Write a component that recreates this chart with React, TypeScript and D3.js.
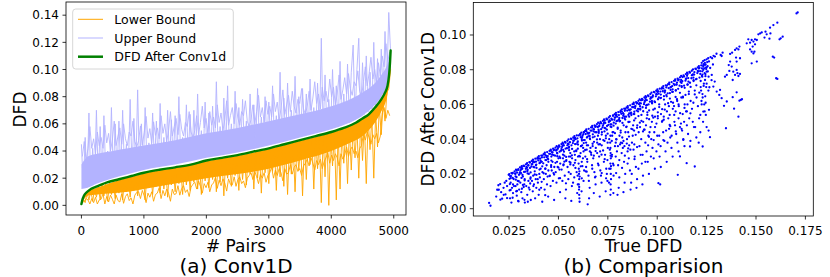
import React from "react";
import * as d3 from "d3";

// ---------- Panel (a): bounds sampled every 30 pairs ----------
const PAIR_STEP = 30;
const upperBound = [
  0.045, 0.013, 0.05, 0.015, 0.068, 0.016, 0.042, 0.017, 0.07, 0.019,
  0.058, 0.019, 0.066, 0.021, 0.04, 0.021, 0.072, 0.022, 0.06, 0.023,
  0.062, 0.024, 0.07, 0.024, 0.045, 0.025, 0.078, 0.026, 0.064, 0.026,
  0.085, 0.027, 0.06, 0.028, 0.072, 0.029, 0.046, 0.029, 0.068, 0.03,
  0.062, 0.03, 0.075, 0.031, 0.05, 0.031, 0.07, 0.032, 0.063, 0.032,
  0.066, 0.033, 0.08, 0.033, 0.05, 0.034, 0.074, 0.035, 0.067, 0.035,
  0.07, 0.036, 0.082, 0.036, 0.055, 0.037, 0.076, 0.037, 0.068, 0.038,
  0.073, 0.038, 0.091, 0.039, 0.058, 0.039, 0.079, 0.04, 0.088, 0.04,
  0.06, 0.041, 0.084, 0.041, 0.072, 0.042, 0.078, 0.042, 0.062, 0.043,
  0.082, 0.043, 0.074, 0.044, 0.086, 0.044, 0.065, 0.045, 0.08, 0.045,
  0.076, 0.046, 0.088, 0.047, 0.066, 0.047, 0.098, 0.048, 0.079, 0.048,
  0.09, 0.049, 0.07, 0.05, 0.095, 0.05, 0.08, 0.051, 0.086, 0.052,
  0.082, 0.052, 0.093, 0.053, 0.072, 0.054, 0.09, 0.054, 0.123, 0.055,
  0.096, 0.056, 0.078, 0.057, 0.1, 0.058, 0.088, 0.058, 0.106, 0.059,
  0.082, 0.06, 0.104, 0.061, 0.098, 0.118, 0.063, 0.1, 0.123, 0.065,
  0.105, 0.067, 0.11, 0.069, 0.098, 0.071, 0.12, 0.074, 0.108, 0.078,
  0.115, 0.082, 0.128, 0.089, 0.142, 0.112,
];
const lowerBound = [
  0.001, 0.004, 0.002, 0.009, 0.004, 0.011, 0.003, 0.012, 0.006, 0.014,
  0.004, 0.015, 0.007, 0.016, 0.003, 0.017, 0.008, 0.017, 0.005, 0.018,
  0.009, 0.019, 0.004, 0.02, 0.01, 0.02, 0.006, 0.021, 0.011, 0.022,
  0.007, 0.022, 0.012, 0.023, 0.004, 0.024, 0.013, 0.024, 0.008, 0.025,
  0.014, 0.025, 0.009, 0.026, 0.012, 0.026, 0.006, 0.027, 0.015, 0.027,
  0.01, 0.028, 0.016, 0.028, 0.008, 0.029, 0.015, 0.029, 0.011, 0.03,
  0.017, 0.03, 0.012, 0.031, 0.008, 0.031, 0.018, 0.032, 0.013, 0.032,
  0.019, 0.033, 0.01, 0.033, 0.017, 0.034, 0.007, 0.034, 0.02, 0.035,
  0.014, 0.035, 0.022, 0.036, 0.011, 0.036, 0.019, 0.037, 0.015, 0.037,
  0.023, 0.038, 0.012, 0.038, 0.02, 0.039, 0.009, 0.04, 0.024, 0.04,
  0.016, 0.041, 0.025, 0.042, 0.011, 0.042, 0.021, 0.043, 0.014, 0.043,
  0.008, 0.044, 0.023, 0.045, 0.01, 0.045, 0.026, 0.046, 0.007, 0.047,
  0.019, 0.047, 0.03, 0.048, 0.012, 0.049, 0.027, 0.05, 0.002, 0.051,
  0.021, 0.052, 0.0, 0.052, 0.029, 0.053, 0.004, 0.054, 0.012, 0.055,
  0.031, 0.056, 0.016, 0.057, 0.026, 0.058, 0.035, 0.059, 0.02, 0.061,
  0.033, 0.062, 0.016, 0.064, 0.041, 0.065, 0.02, 0.068, 0.043, 0.072,
  0.052, 0.076, 0.062, 0.083, 0.086, 0.1,
];
// the in-between samples (pairs 15, 45, 75, ...): shorter spikes at the edge of each band
const upperBoundMid = [
  0.036, 0.047, 0.033, 0.042, 0.058, 0.042, 0.049, 0.038, 0.054, 0.044,
  0.05, 0.042, 0.059, 0.046, 0.053, 0.04, 0.048, 0.062, 0.044, 0.051,
  0.057, 0.045, 0.06, 0.049, 0.044, 0.054, 0.051, 0.062, 0.047, 0.043,
  0.0475, 0.0585, 0.0445, 0.0535, 0.0655, 0.0495, 0.0565, 0.0455, 0.0615, 0.0515,
  0.057, 0.049, 0.066, 0.053, 0.06, 0.047, 0.055, 0.069, 0.051, 0.058,
  0.064, 0.052, 0.067, 0.056, 0.051, 0.061, 0.058, 0.069, 0.054, 0.05,
  0.055, 0.066, 0.052, 0.061, 0.073, 0.057, 0.064, 0.053, 0.069, 0.059,
  0.065, 0.057, 0.074, 0.061, 0.068, 0.055, 0.063, 0.077, 0.059, 0.066,
  0.072, 0.06, 0.075, 0.064, 0.059, 0.069, 0.066, 0.077, 0.062, 0.058,
  0.063, 0.074, 0.06, 0.069, 0.081, 0.065, 0.072, 0.061, 0.077, 0.067,
  0.073, 0.065, 0.082, 0.069, 0.076, 0.063, 0.071, 0.085, 0.067, 0.074,
  0.081, 0.069, 0.084, 0.073, 0.068, 0.078, 0.075, 0.086, 0.071, 0.067,
  0.073, 0.084, 0.07, 0.079, 0.091, 0.075, 0.082, 0.071, 0.087, 0.077,
  0.084, 0.076, 0.093, 0.08, 0.087, 0.074, 0.082, 0.096, 0.078, 0.085,
  0.094, 0.082, 0.097, 0.086, 0.081, 0.091, 0.088, 0.099, 0.084, 0.08,
  0.091, 0.102, 0.088, 0.097, 0.109, 0.093, 0.1, 0.089, 0.105, 0.095,
  0.11, 0.102, 0.119, 0.106, 0.113,
];
const lowerBoundMid = [
  0.002, 0.003, 0.005, 0.004, 0.001, 0.005, 0.002, 0.006, 0.001, 0.004,
  0.0045, 0.0085, 0.001, 0.0065, 0.0025, 0.0075, 0.0045, 0.001, 0.0075, 0.0035,
  0.0025, 0.0085, 0.0015, 0.0065, 0.0085, 0.0035, 0.0055, 0.001, 0.0075, 0.0095,
  0.01, 0.005, 0.011, 0.007, 0.002, 0.009, 0.006, 0.01, 0.003, 0.008,
  0.009, 0.013, 0.005, 0.011, 0.007, 0.012, 0.009, 0.003, 0.012, 0.008,
  0.0085, 0.0145, 0.0075, 0.0125, 0.0145, 0.0095, 0.0115, 0.0065, 0.0135, 0.0155,
  0.017, 0.012, 0.018, 0.014, 0.009, 0.016, 0.013, 0.017, 0.01, 0.015,
  0.0165, 0.0205, 0.0125, 0.0185, 0.0145, 0.0195, 0.0165, 0.0105, 0.0195, 0.0155,
  0.015, 0.021, 0.014, 0.019, 0.021, 0.016, 0.018, 0.013, 0.02, 0.022,
  0.024, 0.019, 0.025, 0.021, 0.016, 0.023, 0.02, 0.024, 0.017, 0.022,
  0.024, 0.028, 0.02, 0.026, 0.022, 0.027, 0.024, 0.018, 0.027, 0.023,
  0.024, 0.03, 0.023, 0.028, 0.03, 0.025, 0.027, 0.022, 0.029, 0.031,
  0.034, 0.029, 0.035, 0.031, 0.026, 0.033, 0.03, 0.034, 0.027, 0.032,
  0.035, 0.039, 0.031, 0.037, 0.033, 0.038, 0.035, 0.029, 0.038, 0.034,
  0.037, 0.043, 0.036, 0.041, 0.043, 0.038, 0.04, 0.035, 0.042, 0.044,
  0.053, 0.048, 0.054, 0.05, 0.045, 0.052, 0.049, 0.053, 0.046, 0.051,
  0.068, 0.072, 0.064, 0.07, 0.066,
];
// dense cores of the two bound bands (where thousands of overlapping lines merge)
const corePairs = [0, 100, 250, 500, 750, 1000, 1500, 2000, 2500, 3000, 3500, 4000, 4250, 4500, 4700, 4800, 4900, 4950];
const upperCoreLow = [0.012, 0.013, 0.016, 0.02, 0.023, 0.026, 0.03, 0.035, 0.039, 0.044, 0.05, 0.056, 0.06, 0.066, 0.074, 0.08, 0.09, 0.112];
const upperCoreHigh = [0.03, 0.036, 0.038, 0.04, 0.042, 0.044, 0.048, 0.053, 0.057, 0.062, 0.067, 0.073, 0.077, 0.083, 0.09, 0.096, 0.104, 0.112];
const lowerCoreLow = [0.001, 0.007, 0.008, 0.009, 0.01, 0.012, 0.016, 0.02, 0.023, 0.027, 0.033, 0.04, 0.045, 0.051, 0.061, 0.069, 0.082, 0.1];
const lowerCoreHigh = [0.001, 0.0105, 0.013, 0.017, 0.0205, 0.0235, 0.0275, 0.0325, 0.0365, 0.0415, 0.0475, 0.0535, 0.0575, 0.0635, 0.0715, 0.0775, 0.0875, 0.113];

const convPairs = [0, 15, 40, 80, 150, 250, 400, 600, 800, 1000, 1250, 1500, 1750, 2000, 2250, 2500, 2750, 3000, 3250, 3500, 3750, 4000, 4200, 4400, 4500, 4600, 4700, 4800, 4860, 4900, 4925, 4940, 4950];
const convValues = [0.001, 0.004, 0.007, 0.0095, 0.012, 0.014, 0.0167, 0.0192, 0.0216, 0.024, 0.0262, 0.028, 0.03, 0.033, 0.035, 0.037, 0.0395, 0.042, 0.045, 0.048, 0.051, 0.054, 0.057, 0.061, 0.064, 0.067, 0.072, 0.078, 0.083, 0.088, 0.096, 0.105, 0.114];

const leftXTicks = [0, 1000, 2000, 3000, 4000, 5000];
const leftYTicks = [0, 0.02, 0.04, 0.06, 0.08, 0.1, 0.12, 0.14];
const rightXTicks = [0.025, 0.05, 0.075, 0.1, 0.125, 0.15, 0.175];
const rightYTicks = [0, 0.02, 0.04, 0.06, 0.08, 0.1];

const legendItems = [
  { label: "Lower Bound", color: "#ffa500", width: 1 },
  { label: "Upper Bound", color: "#b3b3ff", width: 1 },
  { label: "DFD After Conv1d", color: "#008000", width: 2.5 },
];

// ---------- Panel (b): [True DFD, DFD after Conv1D] in units of 1e-4 ----------
const scatter1e4: [number, number][] = [
  [149,33],[156,17],[190,109],[185,70],[196,135],[205,142],[210,95],[215,58],[222,120],[228,150],[232,82],[236,160],[240,130],
  [198,109],[223,80],[240,61],[206,52],
  [248,195],[252,172],[255,188],[258,150],[262,205],[265,120],[268,178],[270,90],[255,60],[262,35],[270,140],[258,108],
  [278,215],[282,200],[285,225],[288,182],[291,208],[294,160],[297,228],[300,195],[283,130],[289,75],[296,45],[301,110],[286,100],[292,140],
  [305,238],[308,220],[311,205],[314,245],[317,230],[320,185],[323,248],[326,212],[329,170],[307,150],[312,95],[318,60],[324,125],[330,35],[315,115],[327,140],
  [335,255],[338,240],[341,262],[344,225],[347,250],[350,200],[353,268],[356,235],[359,180],[337,130],[342,80],[348,160],[354,110],[360,50],[345,40],[357,145],
  [365,275],[368,258],[371,282],[374,240],[377,268],[380,215],[383,288],[386,250],[389,195],[366,160],[370,100],[376,140],[382,60],[388,120],[372,190],[385,170],
  [395,295],[398,278],[401,303],[404,262],[407,288],[410,230],[413,306],[416,270],[419,210],[396,150],[400,80],[406,180],[412,120],[418,40],[403,200],[415,155],
  [425,314],[428,296],[431,322],[434,280],[437,306],[440,250],[443,326],[446,290],[449,220],[426,170],[430,110],[436,200],[442,140],[448,70],[433,230],[445,185],
  [455,333],[458,316],[461,340],[464,300],[467,326],[470,270],[473,345],[476,308],[479,240],[456,190],[460,130],[466,220],[472,160],[478,50],[463,250],[475,205],
  [485,352],[488,335],[491,360],[494,318],[497,345],[500,290],[503,364],[506,328],[509,260],[486,210],[490,150],[496,240],[502,175],[508,95],[493,270],[505,225],
  [515,372],[518,355],[521,380],[524,338],[527,364],[530,305],[533,384],[536,346],[539,275],[516,225],[520,160],[526,255],[532,190],[538,110],[523,290],[535,60],
  [545,391],[548,374],[551,399],[554,356],[557,382],[560,320],[563,403],[566,365],[569,290],[546,240],[550,170],[556,270],[562,200],[568,130],[553,300],[565,45],
  [575,410],[578,392],[581,418],[584,372],[587,400],[590,335],[593,422],[596,380],[599,300],[576,250],[580,180],[586,280],[592,210],[598,140],[583,310],[595,90],
  [602,260],[603,230],[604,200],[605,170],[603,140],[604,110],[605,80],[606,60],[607,40],[606,215],[607,185],[605,125],
  [610,430],[613,412],[616,438],[619,392],[622,420],[625,350],[628,441],[612,320],[618,270],[624,290],[630,220],[614,360],[621,245],[627,160],[617,100],[629,395],
  [635,448],[638,430],[641,456],[644,410],[647,438],[650,365],[653,460],[656,420],[659,330],[636,300],[640,240],[646,270],[652,190],[658,120],[643,340],[655,60],[648,25],
  [665,468],[668,450],[671,476],[674,428],[677,458],[680,385],[683,480],[686,440],[689,350],[666,310],[670,250],[676,290],[682,210],[688,140],[673,360],[685,180],[679,90],
  [695,487],[698,470],[701,495],[704,446],[707,476],[710,400],[713,499],[716,458],[719,365],[696,320],[700,260],[706,300],[712,220],[718,150],[703,370],[715,190],[709,70],
  [725,506],[728,488],[731,514],[734,465],[737,494],[740,420],[743,518],[746,476],[749,380],[726,335],[730,270],[736,310],[742,230],[748,160],[733,390],[745,200],[739,100],
  [762,380],[763,350],[764,320],[765,290],[763,260],[764,230],[765,200],[766,170],[764,140],[765,110],[763,80],[766,245],[764,305],
  [755,525],[758,508],[761,533],[768,485],[771,512],[774,440],[777,537],[780,495],[757,400],[760,340],[770,300],[776,260],[779,190],[756,150],[772,420],[778,90],
  [785,544],[788,526],[791,552],[794,504],[797,530],[800,460],[803,556],[806,512],[809,420],[786,360],[790,300],[796,330],[802,250],[808,180],[793,400],[805,120],[799,80],
  [815,564],[818,546],[821,572],[824,522],[827,550],[830,480],[833,576],[836,530],[839,440],[816,380],[820,320],[826,350],[832,270],[838,200],[823,410],[835,150],[829,95],
  [790,380],[812,370],[834,360],[846,375],[858,365],[872,380],[884,370],
  [845,583],[848,565],[851,591],[854,540],[857,570],[860,500],[863,595],[866,548],[869,460],[847,400],[850,330],[856,290],[862,220],[868,150],[853,440],[865,110],
  [875,602],[878,584],[881,610],[884,558],[887,588],[890,520],[893,614],[896,565],[899,480],[876,420],[880,340],[886,300],[892,240],[898,170],[883,450],[895,120],
  [905,621],[908,602],[911,629],[914,576],[917,606],[920,540],[923,632],[926,584],[929,500],[906,440],[910,360],[916,310],[922,260],[928,190],[913,470],[925,140],
  [935,640],[938,620],[941,648],[944,594],[947,625],[950,555],[953,652],[956,600],[959,515],[936,455],[940,380],[946,330],[952,270],[958,200],[943,480],[955,420],
  [965,660],[968,640],[971,668],[974,612],[977,644],[980,570],[983,672],[986,618],[989,530],[966,470],[970,400],[976,350],[982,290],[988,230],[973,500],[985,440],
  [995,679],[998,658],[1001,687],[1004,630],[1007,662],[1010,585],[1013,691],[1016,636],[1019,545],[996,490],[1000,420],[1006,370],[1012,300],[1018,240],[1003,520],[1015,140],[1006,147],
  [1025,698],[1028,676],[1031,706],[1034,648],[1037,680],[1040,600],[1043,710],[1046,654],[1049,560],[1026,505],[1030,440],[1036,390],[1042,330],[1048,270],[1033,530],
  [1055,717],[1058,694],[1061,725],[1064,665],[1067,698],[1070,615],[1073,729],[1076,672],[1079,575],[1056,520],[1060,460],[1066,410],[1072,350],[1078,300],[1063,540],
  [1085,736],[1088,712],[1091,744],[1094,682],[1097,716],[1100,630],[1103,748],[1106,690],[1109,590],[1086,540],[1090,480],[1096,430],[1102,380],[1108,330],[1093,560],
  [1115,756],[1118,730],[1121,764],[1124,700],[1127,734],[1130,645],[1133,768],[1136,708],[1139,600],[1116,550],[1120,490],[1126,450],[1132,400],[1138,360],[1123,460],
  [1115,301],[1149,262],[1190,243],[1132,396],[1166,358],[1104,195],
  [1145,775],[1148,750],[1151,783],[1154,715],[1157,752],[1160,660],[1163,787],[1166,725],[1169,620],[1146,560],[1150,480],[1156,430],[1162,520],[1168,390],[1153,600],
  [1175,794],[1178,770],[1181,802],[1184,735],[1187,772],[1190,680],[1193,806],[1196,745],[1199,640],[1176,575],[1180,500],[1186,470],[1192,470],[1198,410],[1183,610],
  [1205,813],[1208,790],[1211,821],[1214,755],[1217,792],[1220,700],[1223,825],[1226,765],[1229,660],[1206,590],[1212,520],[1218,440],[1224,620],[1210,380],
  [1235,832],[1238,808],[1241,840],[1244,775],[1247,812],[1250,720],[1253,844],[1256,790],[1259,680],[1238,600],[1246,540],
  [1225,840],[1232,850],[1240,855],[1250,860],[1258,866],[1262,848],[1270,872],[1278,866],[1285,880],[1292,876],[1300,892],[1245,830],[1255,820],[1268,810],[1282,830],
  [1233,800],[1240,780],[1228,760],[1236,720],[1248,700],[1260,760],[1275,740],[1222,680],[1230,640],[1245,610],[1225,600],[1240,560],[1218,540],[1232,500],[1250,470],[1260,450],
  [1705,1124],[1711,1130],[1608,1071],[1588,1057],[1571,1042],[1548,1019],[1529,1015],[1521,1009],[1554,1004],[1512,1004],[1573,1009],
  [1625,981],[1619,975],[1635,990],[1568,979],[1543,985],[1504,971],[1495,975],[1487,962],[1470,956],[1461,975],[1478,971],
  [1495,946],[1483,933],[1470,917],[1478,904],[1492,904],[1487,894],[1453,952],[1416,933],[1402,923],[1394,914],[1411,917],
  [1369,891],[1379,898],[1331,898],[1321,885],[1326,879],[1585,875],[1592,870],[1504,847],[1478,837],[1419,866],[1399,870],
  [1402,847],[1369,847],[1362,827],[1377,818],[1602,751],[1608,747],[1419,776],[1411,764],[1394,770],[1406,780],[1382,741],
  [1402,799],[1385,789],[1343,760],[1352,770],[1365,793],[1423,626],[1416,622],[1429,630],[1382,642],[1389,576],[1411,530],
  [1402,670],[1348,463],[1267,412],[1230,358],[1338,592],[1352,617],[1326,636],[1318,684],[1301,674],[1314,655],[1262,569],
  [1233,559],[1284,703],[1264,699],[1291,732],[1276,770],[1242,741],[1250,789],[1233,818],
];
// extra points of the dense wedge just under the upper edge
const scatterDense1e4: [number, number][] = [
  [251,199],[258,176],[254,142],[260,188],[253,105],[266,202],[273,171],[269,206],[275,130],[268,63],
  [281,203],[288,220],[284,167],[290,102],[283,186],[296,223],[303,199],[299,158],[305,209],[298,42],
  [311,228],[318,194],[314,239],[320,137],[313,177],[326,245],[333,213],[329,163],[335,230],[328,51],
  [341,236],[348,249],[344,203],[350,121],[343,217],[356,266],[363,243],[359,209],[365,255],[358,172],
  [371,269],[378,238],[374,273],[380,197],[373,130],[386,271],[393,288],[389,235],[395,170],[388,254],
  [401,290],[408,266],[404,225],[410,276],[403,109],[416,295],[423,261],[419,306],[425,204],[418,244],
  [431,312],[438,280],[434,230],[440,297],[433,78],[446,303],[453,316],[449,270],[455,188],[448,284],
  [461,334],[468,311],[464,277],[470,323],[463,240],[476,336],[483,305],[479,340],[485,264],[478,197],
  [491,338],[498,355],[494,302],[500,237],[493,321],[506,357],[513,333],[509,292],[515,343],[508,176],
  [521,362],[528,328],[524,373],[530,271],[523,311],[536,380],[543,348],[539,298],[545,365],[538,146],
  [551,370],[558,383],[554,337],[560,255],[553,351],[566,401],[573,378],[569,344],[575,390],[568,307],
  [581,403],[588,372],[584,407],[590,331],[583,264],[596,405],[603,422],[599,369],[605,304],[598,388],
  [611,425],[618,401],[614,360],[620,411],[613,244],[626,429],[633,395],[629,440],[635,338],[628,378],
  [641,447],[648,415],[644,365],[650,432],[643,213],[656,437],[663,450],[659,404],[665,322],[658,418],
  [671,468],[678,445],[674,411],[680,457],[673,374],[686,471],[693,440],[689,475],[695,399],[688,332],
  [701,472],[708,489],[704,436],[710,371],[703,455],[716,492],[723,468],[719,427],[725,478],[718,311],
  [731,496],[738,462],[734,507],[740,405],[733,445],[746,514],[753,482],[749,432],[755,499],[748,280],
  [761,505],[768,518],[764,472],[770,390],[763,486],[776,535],[783,512],[779,478],[785,524],[778,441],
  [791,538],[798,507],[794,542],[800,466],[793,399],[806,539],[813,556],[809,503],[815,438],[808,522],
  [821,559],[828,535],[824,494],[830,545],[823,378],[836,564],[843,530],[839,575],[845,473],[838,513],
  [851,581],[858,549],[854,499],[860,566],[853,347],[866,572],[873,585],[869,539],[875,457],[868,553],
  [881,602],[888,579],[884,545],[890,591],[883,508],[896,605],[903,574],[899,609],[905,533],[898,466],
  [911,607],[918,624],[914,571],[920,506],[913,590],[926,626],[933,602],[929,561],[935,612],[928,445],
  [941,631],[948,597],[944,642],[950,540],[943,580],[956,648],[963,616],[959,566],[965,633],[958,414],
  [971,639],[978,652],[974,606],[980,524],[973,620],[986,670],[993,647],[989,613],[995,659],[988,576],
  [1001,672],[1008,641],[1004,676],[1010,600],[1003,533],[1016,674],[1023,691],[1019,638],[1025,573],[1018,657],
  [1031,693],[1038,669],[1034,628],[1040,679],[1033,512],[1046,698],[1053,664],[1049,709],[1055,607],[1048,647],
  [1061,716],[1068,684],[1064,634],[1070,701],[1063,482],[1076,706],[1083,719],[1079,673],[1085,591],[1078,687],
  [1091,737],[1098,714],[1094,680],[1100,726],[1093,643],[1106,739],[1113,708],[1109,743],[1115,667],[1108,600],
  [1121,741],[1128,758],[1124,705],[1130,640],[1123,724],[1136,761],[1143,737],[1139,696],[1145,747],[1138,580],
  [1151,765],[1158,731],[1154,776],[1160,674],[1153,714],[1166,783],[1173,751],[1169,701],[1175,768],[1168,549],
  [1181,773],[1188,786],[1184,740],[1190,658],[1183,754],[1196,804],[1203,781],[1199,747],[1205,793],[1198,710],
  [1211,807],[1218,776],[1214,811],[1220,735],[1213,668],[1226,808],[1233,825],[1229,772],[1235,707],[1228,791],
  [1241,828],[1248,804],[1244,763],[1250,814],[1243,647],
];
// points filling the middle of the wedge
const scatterMid1e4: [number, number][] = [
  [552,210],[561,265],[574,150],[586,235],[597,190],[609,300],[618,175],[627,330],[638,215],[645,285],
  [654,160],[662,350],[671,230],[679,305],[688,185],[696,380],[703,250],[711,330],[719,205],[727,395],
  [734,285],[741,175],[750,350],[757,230],[763,420],[771,310],[779,250],[786,435],[792,205],[801,360],
  [808,280],[815,450],[822,235],[829,390],[836,305],[843,470],[850,260],[857,415],[864,340],[871,200],
  [878,480],[885,285],[891,425],[898,355],[905,230],[912,495],[919,400],[926,310],[933,455],[940,270],
  [947,520],[954,365],[961,440],[968,300],[975,535],[982,395],[989,470],[996,330],[1003,555],[1010,420],
  [1017,360],[1024,500],[1031,395],[1038,570],[1045,450],[1052,380],[1059,590],[1066,475],[1073,420],[1080,610],
  [1087,500],[1094,445],[1101,620],[1108,520],[1115,470],[1122,640],[1129,545],[1136,500],[1143,655],[1150,560],
  [700,420],[720,440],[745,455],[768,470],[790,490],[812,505],[835,520],[858,530],[880,545],[903,560],
  [660,400],[683,415],[640,380],[620,365],[598,345],[580,330],[560,300],[540,280],[525,250],[505,300],
];

const FONT = "DejaVu Sans, sans-serif";

// Panel geometry
const L = { x0: 66, x1: 406, y0: 2, y1: 215 };
const R = { x0: 473.3, x1: 813.3, y0: 2.5, y1: 216 };

export default function App() {
  const lx = d3.scaleLinear().domain([-247, 5196]).range([L.x0, L.x1]);
  const ly = d3.scaleLinear().domain([-0.0071, 0.1497]).range([L.y1, L.y0]);
  const rx = d3.scaleLinear().domain([0.0069, 0.179]).range([R.x0, R.x1]);
  const ry = d3.scaleLinear().domain([-0.0042, 0.1187]).range([R.y1, R.y0]);

  const boundLine = (offset: number) =>
    d3
      .line<number>()
      .x((_, i) => lx(offset + i * PAIR_STEP))
      .y((d) => ly(d));
  const convLine = d3
    .line<number>()
    .x((_, i) => lx(convPairs[i]))
    .y((d) => ly(d))
    .curve(d3.curveMonotoneX);
  const coreArea = (lo: number[], hi: number[]) =>
    d3
      .area<number>()
      .x((_, i) => lx(corePairs[i]))
      .y0((_, i) => ly(lo[i]))
      .y1((_, i) => ly(hi[i]))
      .curve(d3.curveMonotoneX)(corePairs) || "";

  const f2 = d3.format(".2f");
  const f3 = d3.format(".3f");
  const allPts = scatter1e4.concat(scatterDense1e4, scatterMid1e4);

  return (
    <svg
      width={830}
      height={277}
      style={{ position: "absolute", left: 0, top: 0, background: "#fff" }}
      fontFamily={FONT}
    >
      <defs>
        <clipPath id="clipL">
          <rect x={L.x0} y={L.y0} width={L.x1 - L.x0} height={L.y1 - L.y0} />
        </clipPath>
        <clipPath id="clipR">
          <rect x={R.x0} y={R.y0} width={R.x1 - R.x0} height={R.y1 - R.y0} />
        </clipPath>
      </defs>

      {/* ---------------- Panel (a) ---------------- */}
      <g clipPath="url(#clipL)">
        <path d={coreArea(lowerCoreLow, lowerCoreHigh)} fill="#ffa500" stroke="none" />
        <path d={boundLine(15)(lowerBoundMid) || ""} fill="none" stroke="#ffa500" strokeWidth={0.9} />
        <path d={boundLine(0)(lowerBound) || ""} fill="none" stroke="#ffa500" strokeWidth={0.9} />
        <path d={coreArea(upperCoreLow, upperCoreHigh)} fill="#b3b3ff" stroke="none" />
        <path d={boundLine(15)(upperBoundMid) || ""} fill="none" stroke="#b3b3ff" strokeWidth={0.9} />
        <path d={boundLine(0)(upperBound) || ""} fill="none" stroke="#b3b3ff" strokeWidth={0.9} />
        <path d={convLine(convValues) || ""} fill="none" stroke="#008000" strokeWidth={2.4} strokeLinecap="round" />
      </g>
      <rect x={L.x0} y={L.y0} width={L.x1 - L.x0} height={L.y1 - L.y0} fill="none" stroke="#000" strokeWidth={0.8} />
      {leftXTicks.map((t) => (
        <g key={"lx" + t}>
          <line x1={lx(t)} x2={lx(t)} y1={L.y1} y2={L.y1 + 3.5} stroke="#000" strokeWidth={0.8} />
          <text x={lx(t)} y={235} fontSize={12} textAnchor="middle">{t}</text>
        </g>
      ))}
      {leftYTicks.map((t) => (
        <g key={"ly" + t}>
          <line x1={L.x0 - 3.5} x2={L.x0} y1={ly(t)} y2={ly(t)} stroke="#000" strokeWidth={0.8} />
          <text x={L.x0 - 7} y={ly(t)} dy="0.36em" fontSize={12} textAnchor="end">{f2(t)}</text>
        </g>
      ))}
      <text x={236} y={252} fontSize={17} textAnchor="middle"># Pairs</text>
      <text transform={`translate(26,${(L.y0 + L.y1) / 2 + 1}) rotate(-90)`} fontSize={17} textAnchor="middle">DFD</text>
      <text x={236} y={272.5} fontSize={20} textAnchor="middle">(a) Conv1D</text>

      {/* legend */}
      <rect x={72.7} y={9} width={160.6} height={60} rx={3} fill="#fff" fillOpacity={0.8} stroke="#cccccc" strokeWidth={0.8} />
      {legendItems.map((it, i) => {
        const cy = 19.3 + i * 18.7;
        return (
          <g key={it.label}>
            <line x1={78} x2={103} y1={cy} y2={cy} stroke={it.color} strokeWidth={it.width} />
            <text x={114.3} y={cy} dy="0.36em" fontSize={12.5}>{it.label}</text>
          </g>
        );
      })}

      {/* ---------------- Panel (b) ---------------- */}
      <g clipPath="url(#clipR)">
        {allPts.map(([a, b], i) => (
          <circle key={i} cx={rx(a / 10000)} cy={ry(b / 10000)} r={1.15} fill="#0000ff" />
        ))}
      </g>
      <rect x={R.x0} y={R.y0} width={R.x1 - R.x0} height={R.y1 - R.y0} fill="none" stroke="#000" strokeWidth={0.8} />
      {rightXTicks.map((t) => (
        <g key={"rx" + t}>
          <line x1={rx(t)} x2={rx(t)} y1={R.y1} y2={R.y1 + 3.5} stroke="#000" strokeWidth={0.8} />
          <text x={rx(t)} y={235} fontSize={12} textAnchor="middle">{f3(t)}</text>
        </g>
      ))}
      {rightYTicks.map((t) => (
        <g key={"ry" + t}>
          <line x1={R.x0 - 3.5} x2={R.x0} y1={ry(t)} y2={ry(t)} stroke="#000" strokeWidth={0.8} />
          <text x={R.x0 - 7} y={ry(t)} dy="0.36em" fontSize={12} textAnchor="end">{f2(t)}</text>
        </g>
      ))}
      <text x={643.5} y={252} fontSize={17} textAnchor="middle">True DFD</text>
      <text transform={`translate(433.5,${(R.y0 + R.y1) / 2}) rotate(-90)`} fontSize={17} textAnchor="middle">DFD After Conv1D</text>
      <text x={643.5} y={272.5} fontSize={20} textAnchor="middle">(b) Comparision</text>
    </svg>
  );
}
